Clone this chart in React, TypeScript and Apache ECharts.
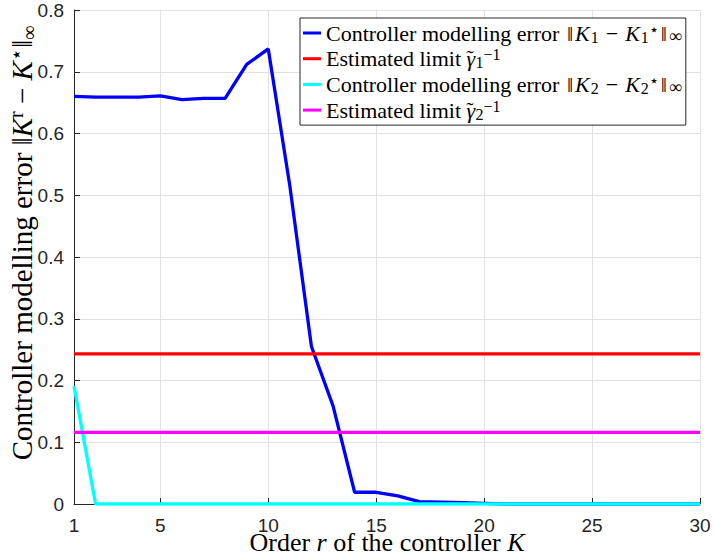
import React, { useEffect, useRef } from "react";
import * as echarts from "echarts";

// x: controller order r
const orders: number[] = Array.from({ length: 30 }, (_, i) => i + 1);
// ||K1 - K1*||_inf for r = 1..30
const err1: number[] = [
  0.66, 0.659, 0.659, 0.659, 0.661, 0.655, 0.657, 0.657, 0.712, 0.737,
  0.515, 0.255, 0.159, 0.019, 0.019, 0.013, 0.004, 0.003, 0.002, 0.001,
  0, 0, 0, 0, 0, 0, 0, 0, 0, 0,
];
// ||K2 - K2*||_inf
const err2: number[] = [
  0.191, 0, 0, 0, 0, 0, 0, 0, 0, 0,
  0, 0, 0, 0, 0, 0, 0, 0, 0, 0,
  0, 0, 0, 0, 0, 0, 0, 0, 0, 0,
];
const limit1 = 0.243;
const limit2 = 0.116;
const xTicks: number[] = [1, 5, 10, 15, 20, 25, 30];
const yMin = 0;
const yMax = 0.8;
const yStep = 0.1;

const legendNames = ["e1", "g1", "e2", "g2"];
const legendLabels: Record<string, string> = {
  e1: "{n|Controller modelling error }{nb|‖}{i|K}{sub|1}{op|−}{i|K}{sub|1}{sup|⋆}{nb|‖}{inf|∞}",
  g1: "{n|Estimated limit }{i|γ}{tl|˜}{sub|1}{sup|−1}",
  e2: "{n|Controller modelling error }{nb|‖}{i|K}{sub|2}{op|−}{i|K}{sub|2}{sup|⋆}{nb|‖}{inf|∞}",
  g2: "{n|Estimated limit }{i|γ}{tl|˜}{sub|2}{sup|−1}",
};

const SERIF = "'Liberation Serif', serif";
const SANS = "'Liberation Sans', sans-serif";
const AX = "#262626";
const GRID = "#e2e2e2";
const LEG = 22;
const XNAME = 26;
const YNAME = 29;

export default function App() {
  const ref = useRef<HTMLDivElement>(null);
  useEffect(() => {
    if (!ref.current) return;
    const chart = echarts.init(ref.current, undefined, { renderer: "svg" });
    const legendRich = {
      n: { fontFamily: SERIF, fontSize: LEG, lineHeight: 24, color: "#000" },
      nb: { fontFamily: SERIF, fontSize: LEG, lineHeight: 24, color: "#000", padding: [0, 2, 0, 2] },
      op: { fontFamily: SERIF, fontSize: LEG, lineHeight: 24, color: "#000", padding: [0, 7, 0, 7] },
      i: { fontFamily: SERIF, fontSize: LEG, fontStyle: "italic", lineHeight: 24, color: "#000", padding: [0, 1, 0, 0] },
      tl: { fontFamily: SERIF, fontSize: LEG, lineHeight: 16, verticalAlign: "top", color: "#000", padding: [0, 2, 0, -10] },
      sub: { fontFamily: SERIF, fontSize: 16, lineHeight: 12, verticalAlign: "bottom", color: "#000" },
      inf: { fontFamily: SERIF, fontSize: 18, lineHeight: 13, verticalAlign: "bottom", color: "#000" },
      sup: { fontFamily: SERIF, fontSize: 16, lineHeight: 15, verticalAlign: "top", color: "#000" },
    };
    const mkName = (fs: number) => ({
      n: { fontFamily: SERIF, fontSize: fs, lineHeight: fs + 4, color: "#000" },
      i: { fontFamily: SERIF, fontSize: fs, fontStyle: "italic", lineHeight: fs + 4, color: "#000" },
      sup: { fontFamily: SERIF, fontSize: Math.round(fs * 0.7), lineHeight: Math.round(fs * 0.62), verticalAlign: "top", color: "#000" },
      sub: { fontFamily: SERIF, fontSize: Math.round(fs * 0.7), lineHeight: Math.round(fs * 0.58), verticalAlign: "bottom", color: "#000" },
    });
    const line = (name: string, color: string, data: number[][]) => ({
      name,
      type: "line",
      data,
      showSymbol: false,
      symbol: "none",
      color,
      lineStyle: { color, width: 3.3 },
    });
    chart.setOption({
      animation: false,
      backgroundColor: "#fff",
      textStyle: { fontFamily: SERIF },
      grid: { left: 74, right: 14, top: 10, bottom: 56, containLabel: false, outerBoundsMode: "none" },
      legend: {
        data: legendNames,
        orient: "vertical",
        left: 300,
        top: 18,
        icon: "rect",
        itemWidth: 18,
        itemHeight: 3,
        itemGap: 1.7,
        padding: [3, 4, 3, 3],
        backgroundColor: "#fff",
        borderColor: AX,
        borderWidth: 1,
        borderRadius: 0,
        formatter: (n: string) => legendLabels[n],
        textStyle: {
          fontFamily: SERIF,
          fontSize: LEG,
          lineHeight: 24,
          color: "#000",
          rich: legendRich,
        },
      },
      xAxis: {
        type: "value",
        min: 1,
        max: 30,
        name: "{n|Order }{i|r}{n| of the controller }{i|K}",
        nameLocation: "middle",
        nameGap: 30,
        nameMoveOverlap: false,
        nameTextStyle: {
          fontFamily: SERIF,
          fontSize: XNAME,
          lineHeight: 16,
          color: "#000",
          rich: {
            n: { fontFamily: SERIF, fontSize: XNAME, lineHeight: 16, color: "#000" },
            i: { fontFamily: SERIF, fontSize: XNAME, fontStyle: "italic", lineHeight: 16, color: "#000" },
          },
        },
        axisLine: { show: true, onZero: false, lineStyle: { color: AX, width: 1 } },
        axisTick: { show: true, inside: true, length: 6, customValues: xTicks, lineStyle: { color: AX } },
        axisLabel: {
          customValues: xTicks,
          margin: 14,
          lineHeight: 15,
          fontFamily: SANS,
          fontSize: 19,
          color: AX,
        },
        splitLine: { show: true, lineStyle: { color: GRID, width: 1 } },
      },
      yAxis: {
        type: "value",
        min: yMin,
        max: yMax,
        interval: yStep,
        axisLine: { show: true, lineStyle: { color: AX, width: 1 } },
        axisTick: { show: true, inside: true, length: 6, lineStyle: { color: AX } },
        axisLabel: {
          margin: 10,
          fontFamily: SANS,
          fontSize: 19,
          color: AX,
          formatter: (v: number) => String(Math.round(v * 10) / 10),
        },
        splitLine: { show: true, lineStyle: { color: GRID, width: 1 } },
      },
      graphic: [
        {
          type: "text",
          x: 22,
          y: 243,
          rotation: Math.PI / 2,
          style: {
            text: "{n|Controller modelling error ‖}{i|K}{sup|r}{n| − }{i|K}{sup|⋆}{n|‖}{sub|∞}",
            fontFamily: SERIF,
            fontSize: YNAME,
            lineHeight: YNAME + 4,
            fill: "#000",
            align: "center",
            verticalAlign: "middle",
            rich: mkName(YNAME),
          },
        },
      ],
      series: [
        line("e1", "#0000ff", orders.map((x, i) => [x, err1[i]])),
        line("g1", "#ff0000", [[orders[0], limit1], [orders[orders.length - 1], limit1]]),
        line("e2", "#00ffff", orders.map((x, i) => [x, err2[i]])),
        line("g2", "#ff00ff", [[orders[0], limit2], [orders[orders.length - 1], limit2]]),
      ],
    });
    return () => chart.dispose();
  }, []);
  return (
    <div
      ref={ref}
      style={{ position: "fixed", left: 0, top: 0, width: 714, height: 560, background: "#fff" }}
    />
  );
}
